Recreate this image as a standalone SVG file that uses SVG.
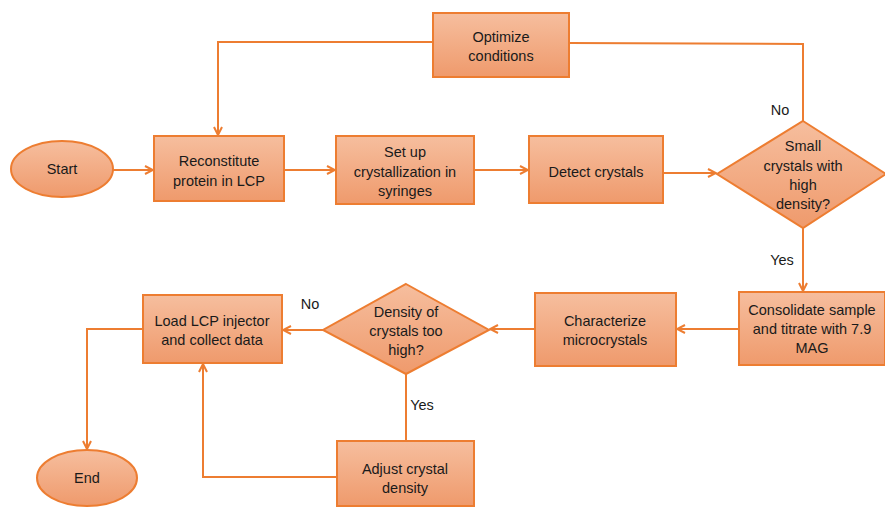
<svg xmlns="http://www.w3.org/2000/svg" width="885" height="509" viewBox="0 0 885 509">
<defs>
<linearGradient id="g" x1="0" y1="0" x2="0" y2="1">
<stop offset="0" stop-color="#F6BE9E"/>
<stop offset="1" stop-color="#EF9A6C"/>
</linearGradient>
<marker id="ah" viewBox="0 0 10 10" refX="9" refY="5" markerWidth="10" markerHeight="10" markerUnits="userSpaceOnUse" orient="auto">
<path d="M1,1 L9,5 L1,9" fill="none" stroke="#ED7D31" stroke-width="2"/>
</marker>
<style>
.n{fill:url(#g);stroke:#ED7D31;stroke-width:2}
.c{fill:none;stroke:#ED7D31;stroke-width:2}
.t{font-family:"Liberation Sans",Arial,sans-serif;font-size:14.5px;fill:#1a1a1a;text-anchor:middle}
.l{font-family:"Liberation Sans",Arial,sans-serif;font-size:14.5px;fill:#1a1a1a;text-anchor:middle}
</style>
</defs>
<rect width="885" height="509" fill="#ffffff"/>
<g id="connectors">
<path class="c" d="M113,170 L153,170" marker-end="url(#ah)"/>
<path class="c" d="M284,170 L335,170" marker-end="url(#ah)"/>
<path class="c" d="M474,170 L528,170" marker-end="url(#ah)"/>
<path class="c" d="M663,173 L716,173" marker-end="url(#ah)"/>
<path class="c" d="M803,121 L803,44 L569,43"/>
<path class="c" d="M433,42 L218,42 L218,135" marker-end="url(#ah)"/>
<path class="c" d="M803,228 L803,291" marker-end="url(#ah)"/>
<path class="c" d="M739,329 L677,329" marker-end="url(#ah)"/>
<path class="c" d="M535,329 L490,329" marker-end="url(#ah)"/>
<path class="c" d="M323,330 L283,330" marker-end="url(#ah)"/>
<path class="c" d="M406,374 L406,441"/>
<path class="c" d="M337,477 L203,477 L203,364" marker-end="url(#ah)"/>
<path class="c" d="M143,329 L87,329 L87,449" marker-end="url(#ah)"/>
<text class="l" x="780" y="115">No</text>
<text class="l" x="782" y="265">Yes</text>
<text class="l" x="310" y="309">No</text>
<text class="l" x="422" y="410">Yes</text>
</g>
<g id="start">
<ellipse class="n" cx="62" cy="169" rx="51" ry="28"/>
<text class="t" x="62" y="174">Start</text>
</g>
<g id="reconstitute">
<rect class="n" x="154" y="136" width="130" height="65"/>
<text class="t" x="219" y="166">Reconstitute</text>
<text class="t" x="219" y="186">protein in LCP</text>
</g>
<g id="optimize">
<rect class="n" x="433" y="13" width="136" height="64"/>
<text class="t" x="501" y="42">Optimize</text>
<text class="t" x="501" y="61">conditions</text>
</g>
<g id="setup">
<rect class="n" x="336" y="136" width="138" height="68"/>
<text class="t" x="405" y="157">Set up</text>
<text class="t" x="405" y="177">crystallization in</text>
<text class="t" x="405" y="196">syringes</text>
</g>
<g id="detect">
<rect class="n" x="529" y="136" width="134" height="67"/>
<text class="t" x="596" y="177">Detect crystals</text>
</g>
<g id="decision1">
<polygon class="n" points="803,121 886,174 803,228 717,174"/>
<text class="t" x="803" y="151">Small</text>
<text class="t" x="803" y="171">crystals with</text>
<text class="t" x="803" y="190">high</text>
<text class="t" x="803" y="209">density?</text>
</g>
<g id="consolidate">
<rect class="n" x="739" y="292" width="146" height="73"/>
<text class="t" x="812" y="315">Consolidate sample</text>
<text class="t" x="812" y="334">and titrate with 7.9</text>
<text class="t" x="812" y="353">MAG</text>
</g>
<g id="characterize">
<rect class="n" x="535" y="293" width="141" height="73"/>
<text class="t" x="605" y="326">Characterize</text>
<text class="t" x="605" y="345">microcrystals</text>
</g>
<g id="decision2">
<polygon class="n" points="406,284 489,330 406,374 323,330"/>
<text class="t" x="406" y="317">Density of</text>
<text class="t" x="406" y="336">crystals too</text>
<text class="t" x="406" y="355">high?</text>
</g>
<g id="load">
<rect class="n" x="143" y="295" width="139" height="68"/>
<text class="t" x="212" y="326">Load LCP injector</text>
<text class="t" x="212" y="345">and collect data</text>
</g>
<g id="adjust">
<rect class="n" x="337" y="441" width="137" height="65"/>
<text class="t" x="405" y="474">Adjust crystal</text>
<text class="t" x="405" y="493">density</text>
</g>
<g id="end">
<ellipse class="n" cx="87" cy="478" rx="50" ry="28"/>
<text class="t" x="87" y="483">End</text>
</g>
</svg>
